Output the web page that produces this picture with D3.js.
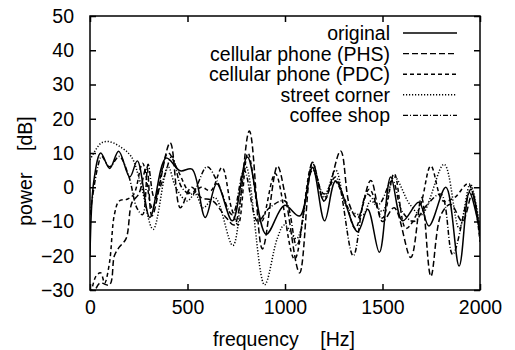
<!DOCTYPE html>
<html>
<head>
<meta charset="utf-8">
<script src="https://cdn.jsdelivr.net/npm/d3@7"></script>
<style>
  body { margin: 0; background: #fff; }
  svg { display: block; }
  text { font-family: "Liberation Sans", Arial, Helvetica, sans-serif; fill: #000; }
</style>
</head>
<body>
<div id="chart"></div>
<script>
// power spectra, [frequency Hz, power dB]
const original = [[0,-20],[20,2],[55,10],[101,5.5],[147,10.5],[204,3],[243,7.7],[307,-8.8],[390,8.5],[463,4.8],[523,5.3],[591,-8.8],[650,1],[730,-9.8],[807,8.8],[903,-13.7],[997,-5.3],[1075,-8.4],[1141,5.8],[1203,-9.8],[1260,1.8],[1372,-13],[1424,-6.4],[1484,-19],[1542,3],[1603,-9.8],[1686,-4.4],[1738,-11.3],[1825,0],[1893,-23],[1945,-1.5],[2000,-13]];
const phs = [[15,-32],[50,-28],[100,-28.5],[125,-20],[150,-17.5],[185,-15],[215,-4.5],[250,-2],[290,6],[318,-8.4],[411,13],[463,-6],[520,0],[570,-3],[630,-4],[700,-9],[740,-11],[817,16.4],[884,-18],[961,6.2],[1000,-2],[1075,-25],[1141,7.3],[1200,-4],[1285,10.6],[1330,-5],[1372,-9],[1440,2],[1500,-10],[1560,-6],[1645,-20.5],[1700,-3],[1748,-26],[1800,-8],[1850,-5],[1910,-10],[1960,-2],[2000,-15]];
const pdc = [[0,-33],[30,-26],[55,-25],[75,-28],[100,-22],[125,-8],[150,-4],[190,-3.5],[225,-2],[270,7],[320,-6],[400,10],[450,5],[520,-2],[570,0],[620,-1],[677,5.8],[725,-6],[760,-11],[810,10],[880,-10],[950,4],[1049,-21],[1141,7],[1200,-4],[1250,2],[1310,-4],[1360,-12],[1432,-0.6],[1500,-9],[1560,4],[1620,-12],[1690,-6],[1748,6.2],[1810,-4],[1870,-3],[1940,1],[2000,-16]];
const street = [[0,8],[30,11],[60,13],[100,13.3],[150,12],[211,9],[260,1],[324,-12.3],[400,6],[440,0],[497,-4],[540,-2],[580,-6],[640,-3],[733,-17],[800,6],[895,-28.5],[960,-15],[997,-11],[1060,-15],[1141,6],[1200,-3],[1260,5],[1320,-6],[1400,-8],[1440,-4],[1500,-7],[1560,3],[1640,-5],[1700,-8],[1816,6.7],[1893,-12],[1950,1],[2000,-12]];
const coffee = [[0,-8],[40,6],[60,9],[100,6],[150,9],[200,3],[240,-6],[270,-8],[298,6.7],[330,-3],[380,3],[420,9],[470,0],[520,-2],[600,6],[650,2],[730,-8],[790,5],[860,-10],[920,-6],[1000,-4],[1060,-17],[1141,5],[1200,-2],[1260,3],[1350,-20],[1420,-2],[1480,-5],[1550,2],[1600,-7],[1660,-10],[1730,-5],[1800,-2],[1860,-19.6],[1954,-0.6],[2000,-14]];

const seriesNames = ["original", "cellular phone (PHS)", "cellular phone (PDC)", "street corner", "coffee shop"];
const seriesData = [original, phs, pdc, street, coffee];
const dashes = [null, "6,3", "4,3", "1.2,1.8", "5,2,1,2"];

const xTicks = [0, 500, 1000, 1500, 2000];
const yTicks = [-30, -20, -10, 0, 10, 20, 30, 40, 50];

const width = 515, height = 350;
const plotLeft = 90, plotRight = 480, plotTop = 16, plotBottom = 290;
const fontSize = 19.5;

const svg = d3.select("#chart").append("svg")
  .attr("width", width)
  .attr("height", height);

const x = d3.scaleLinear().domain([0, 2000]).range([plotLeft, plotRight]);
const y = d3.scaleLinear().domain([-30, 50]).range([plotBottom, plotTop]);

svg.append("clipPath").attr("id", "clip")
  .append("rect")
  .attr("x", plotLeft).attr("y", plotTop)
  .attr("width", plotRight - plotLeft).attr("height", plotBottom - plotTop);

// ticks on all four sides, pointing inwards
const tickLen = 6;
svg.append("g").attr("transform", "translate(0," + plotBottom + ")")
  .call(d3.axisBottom(x).tickValues(xTicks).tickSize(-tickLen).tickPadding(10).tickFormat(d3.format("d")))
  .call(g => g.select(".domain").remove());
svg.append("g").attr("transform", "translate(0," + plotTop + ")")
  .call(d3.axisTop(x).tickValues(xTicks).tickSize(-tickLen).tickFormat(""))
  .call(g => g.select(".domain").remove());
svg.append("g").attr("transform", "translate(" + plotLeft + ",0)")
  .call(d3.axisLeft(y).tickValues(yTicks).tickSize(-tickLen).tickPadding(16))
  .call(g => g.select(".domain").remove());
svg.append("g").attr("transform", "translate(" + plotRight + ",0)")
  .call(d3.axisRight(y).tickValues(yTicks).tickSize(-tickLen).tickFormat(""))
  .call(g => g.select(".domain").remove());

svg.selectAll(".tick line").attr("stroke", "#000").attr("stroke-width", 1.5);
svg.selectAll(".tick text")
  .attr("font-size", fontSize)
  .style("font-family", '"Liberation Sans", Arial, sans-serif');

// curves
const line = d3.line()
  .x(d => x(d[0]))
  .y(d => y(d[1]))
  .curve(d3.curveCatmullRom.alpha(0.5));

svg.append("g").attr("clip-path", "url(#clip)")
  .selectAll("path")
  .data(seriesData)
  .enter()
  .append("path")
  .attr("d", line)
  .attr("fill", "none")
  .attr("stroke", "#000")
  .attr("stroke-width", 1.5)
  .attr("stroke-dasharray", (d, i) => dashes[i]);

// frame
svg.append("rect")
  .attr("x", plotLeft).attr("y", plotTop)
  .attr("width", plotRight - plotLeft).attr("height", plotBottom - plotTop)
  .attr("fill", "none")
  .attr("stroke", "#000")
  .attr("stroke-width", 1.5);

// legend
const legend = svg.append("g")
  .selectAll("g")
  .data(seriesNames)
  .enter()
  .append("g")
  .attr("transform", (d, i) => "translate(0," + (33 + i * 20.6) + ")");

legend.append("text")
  .attr("x", 390)
  .attr("dy", "0.36em")
  .attr("text-anchor", "end")
  .attr("font-size", fontSize)
  .text(d => d);

legend.append("line")
  .attr("x1", 403).attr("x2", 457)
  .attr("stroke", "#000")
  .attr("stroke-width", 1.4)
  .attr("stroke-dasharray", (d, i) => dashes[i]);

// axis titles
svg.append("text")
  .attr("x", 284).attr("y", 346)
  .attr("text-anchor", "middle")
  .attr("font-size", fontSize)
  .style("white-space", "pre")
  .text("frequency    [Hz]");

svg.append("text")
  .attr("transform", "translate(32,171) rotate(-90)")
  .attr("text-anchor", "middle")
  .attr("font-size", fontSize)
  .style("white-space", "pre")
  .text("power    [dB]");
</script>
</body>
</html>
